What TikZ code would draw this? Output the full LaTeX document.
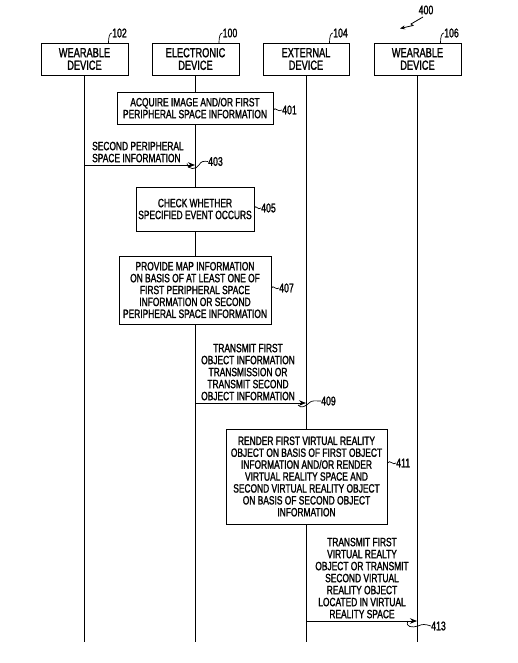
\documentclass[tikz,border=0pt]{standalone}
\usepackage{fontspec}
\setmainfont[FakeStretch=0.70,FakeBold=1.4]{Liberation Sans}
\usetikzlibrary{arrows.meta,shadows}
\begin{document}
\begin{tikzpicture}[x=1pt,y=-1pt,
  txt/.style={font=\fontsize{12}{12}\selectfont,align=center,inner sep=0pt},
  hdr/.style={draw,line width=0.9pt,fill=white,minimum height=32pt,inner sep=0pt,
    font=\fontsize{13.2}{12.6}\selectfont,align=center,
    drop shadow={shadow xshift=1.3pt,shadow yshift=-1.3pt,fill=black,opacity=1}},
  proc/.style={draw,line width=0.9pt,fill=white,inner sep=0pt,
    font=\fontsize{12}{11.9}\selectfont,align=center},
  life/.style={line width=0.9pt},
  msg/.style={line width=0.9pt,-{Stealth[length=7pt,width=5.5pt]}},
  lead/.style={line width=0.7pt},
  num/.style={font=\fontsize{12.5}{12}\selectfont,inner sep=0pt}]
\useasboundingbox (0,0) rectangle (517,663);
% headers
\node[hdr,minimum width=87pt] (h102) at (84.5,59) {WEARABLE\\DEVICE};
\node[hdr,minimum width=87pt] (h100) at (195.5,59) {ELECTRONIC\\DEVICE};
\node[hdr,minimum width=86pt] (h104) at (306,59) {EXTERNAL\\DEVICE};
\node[hdr,minimum width=87pt] (h106) at (417.5,59) {WEARABLE\\DEVICE};
% lifeline ends
\coordinate (e102) at (84,642);
\coordinate (e100) at (195,642);
\coordinate (e104) at (306,642);
\coordinate (e106) at (417,642);
\draw[life] (h102.south -| e102) -- (e102);
\draw[life] (h100.south -| e100) -- (e100);
\draw[life] (h104.south -| e104) -- (e104);
\draw[life] (h106.south -| e106) -- (e106);
% header numbers
\node[num,anchor=west] (n102) at (112,33) {102};
\node[num,anchor=west] (n100) at (222.5,33) {100};
\node[num,anchor=west] (n104) at (333,33) {104};
\node[num,anchor=west] (n106) at (444,33) {106};
\draw[lead] (108.5,43) .. controls (108.5,37) and (109.5,33) .. (n102.west);
\draw[lead] (219,43) .. controls (219,37) and (220,33) .. (n100.west);
\draw[lead] (329.5,43) .. controls (329.5,37) and (330.5,33) .. (n104.west);
\draw[lead] (440.5,43) .. controls (440.5,37) and (441.5,33) .. (n106.west);
% 400
\node[num] (n400) at (426,10) {400};
\coordinate (a400) at (400,28.5);
\draw[line width=0.8pt,-{Stealth[length=5pt,width=4pt]}] (423,17) -- (411,24) -- (413,25.5) -- (a400);
% 401
\node[proc,minimum width=156pt,minimum height=32pt] (b401) at (195,108) {ACQUIRE IMAGE AND/OR FIRST\\PERIPHERAL SPACE INFORMATION};
\node[num,anchor=west] (n401) at (282,110) {401};
\draw[lead] (b401.east |- n401) .. controls (275,106) and (278,113) .. (n401.west);
% 403
\coordinate (s403) at (84,165);
\coordinate (t403) at (195,165);
\draw[msg] (s403) -- (t403);
\node[txt,align=left,anchor=south west] (m403) at (92,162.5) {SECOND PERIPHERAL\\SPACE INFORMATION};
\node[num,anchor=west] (n403) at (208,161.5) {403};
\draw[lead] (187,163.5) .. controls (188,170) and (196,170) .. (199,165) .. controls (201,161) and (204,161) .. (n403.west);
% 405
\node[proc,minimum width=118pt,minimum height=44pt] (b405) at (195,209) {CHECK WHETHER\\SPECIFIED EVENT OCCURS};
\node[num,anchor=west] (n405) at (261,208) {405};
\draw[lead] (b405.east |- n405) .. controls (256,204) and (258,211) .. (n405.west);
% 407
\node[proc,minimum width=152pt,minimum height=68pt] (b407) at (195,290) {PROVIDE MAP INFORMATION\\ON BASIS OF AT LEAST ONE OF\\FIRST PERIPHERAL SPACE\\INFORMATION OR SECOND\\PERIPHERAL SPACE INFORMATION};
\node[num,anchor=west] (n407) at (279,288) {407};
\draw[lead] (b407.east |- n407) .. controls (273,284) and (276,291) .. (n407.west);
% 409
\coordinate (s409) at (195,403);
\coordinate (t409) at (306,403);
\draw[msg] (s409) -- (t409);
\node[txt,anchor=south] (m409) at (248,400.5) {TRANSMIT FIRST\\OBJECT INFORMATION\\TRANSMISSION OR\\TRANSMIT SECOND\\OBJECT INFORMATION};
\node[num,anchor=west] (n409) at (321,401) {409};
\draw[lead] (298,405) .. controls (301,409) and (306,406) .. (309,403) .. controls (312,400) and (315,401) .. (n409.west);
% 411
\node[proc,minimum width=161pt,minimum height=95pt] (b411) at (306.5,476.5) {RENDER FIRST VIRTUAL REALITY\\OBJECT ON BASIS OF FIRST OBJECT\\INFORMATION AND/OR RENDER\\VIRTUAL REALITY SPACE AND\\SECOND VIRTUAL REALITY OBJECT\\ON BASIS OF SECOND OBJECT\\INFORMATION};
\node[num,anchor=west] (n411) at (396,463) {411};
\draw[lead] (b411.east |- n411) .. controls (390,459) and (393,466) .. (n411.west);
% 413
\coordinate (s413) at (306,621);
\coordinate (t413) at (417,621);
\draw[msg] (s413) -- (t413);
\node[txt,anchor=south] (m413) at (362,618.5) {TRANSMIT FIRST\\VIRTUAL REALTY\\OBJECT OR TRANSMIT\\SECOND VIRTUAL\\REALITY OBJECT\\LOCATED IN VIRTUAL\\REALITY SPACE};
\node[num,anchor=west] (n413) at (431,626) {413};
\draw[lead] (408,621) .. controls (405,627) and (412,628) .. (418,626) .. controls (422,624) and (425,624) .. (n413.west);
\end{tikzpicture}
\end{document}
